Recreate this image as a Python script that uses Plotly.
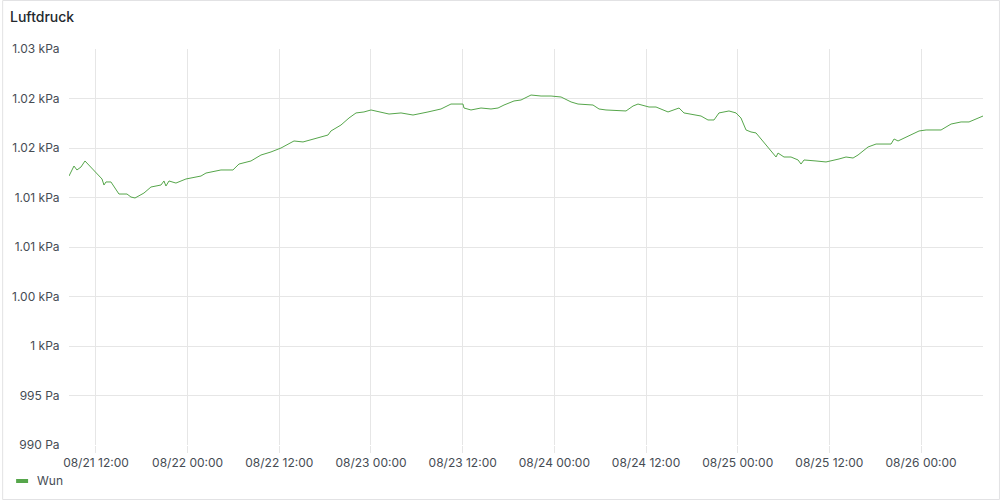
import pandas as pd
import plotly.graph_objects as go

# hours since 2024-08-21 00:00
hours = [8.47, 9.12, 9.51, 10.04, 10.56, 12.13, 12.79, 13.05, 13.31, 13.96, 15.01, 16.06, 16.58, 17.11,
         18.28, 19.20, 20.51, 20.90, 21.16, 21.56, 22.47, 23.78, 25.75, 26.40, 28.36, 29.93, 30.72, 32.29,
         33.60, 34.91, 36.22, 37.92, 39.10, 42.37, 42.76, 44.07, 45.12, 46.04, 47.08, 48.00, 49.31, 50.36,
         51.93, 53.50, 55.46, 57.16, 58.47, 60.04, 60.17, 61.09, 62.40, 63.71, 64.63, 65.41, 66.72, 67.64,
         68.95, 70.26, 71.57, 72.88, 74.19, 75.10, 77.06, 77.85, 78.76, 80.73, 81.38, 82.30, 82.95, 84.39,
         85.31, 86.88, 88.32, 88.97, 89.89, 91.20, 92.11, 92.90, 93.55, 94.86, 95.78, 96.43, 97.09, 97.74,
         98.40, 99.05, 99.71, 100.36, 101.02, 101.28, 102.06, 102.98, 103.90, 104.29, 104.68, 106.25,
         107.56, 109.26, 110.18, 111.10, 111.75, 113.06, 114.11, 116.07, 116.47, 116.99, 118.69, 119.74,
         120.66, 122.62, 123.93, 125.24, 126.28, 127.20, 128.11]
pressure_pa = [1017.17, 1018.18, 1017.78, 1018.08, 1018.69, 1017.47, 1016.87, 1016.26, 1016.57, 1016.57,
               1015.35, 1015.35, 1015.05, 1014.95, 1015.45, 1016.06, 1016.26, 1016.67, 1016.16, 1016.67,
               1016.46, 1016.87, 1017.17, 1017.47, 1017.78, 1017.78, 1018.38, 1018.69, 1019.29, 1019.60,
               1020.00, 1020.71, 1020.61, 1021.31, 1021.72, 1022.32, 1023.03, 1023.54, 1023.64, 1023.84,
               1023.64, 1023.43, 1023.54, 1023.33, 1023.64, 1023.94, 1024.44, 1024.44, 1024.04, 1023.84,
               1024.04, 1023.94, 1024.04, 1024.34, 1024.75, 1024.85, 1025.35, 1025.25, 1025.25, 1025.15,
               1024.65, 1024.44, 1024.34, 1023.94, 1023.84, 1023.74, 1023.74, 1024.24, 1024.44, 1024.14,
               1024.14, 1023.64, 1024.04, 1023.54, 1023.43, 1023.23, 1022.83, 1022.83, 1023.54, 1023.74,
               1023.54, 1023.03, 1021.82, 1021.62, 1021.52, 1020.91, 1020.30, 1019.60, 1019.09, 1019.49,
               1019.09, 1019.09, 1018.79, 1018.38, 1018.79, 1018.69, 1018.59, 1018.89, 1019.09, 1018.99,
               1019.29, 1020.10, 1020.40, 1020.40, 1020.91, 1020.71, 1021.31, 1021.72, 1021.82, 1021.82,
               1022.42, 1022.63, 1022.63, 1022.93, 1023.23]

y_tickvals = [990, 995, 1000, 1005, 1010, 1015, 1020, 1025, 1030]
y_ticktext = ["990 Pa", "995 Pa", "1 kPa", "1.00 kPa", "1.01 kPa", "1.01 kPa", "1.02 kPa", "1.02 kPa", "1.03 kPa"]

base = pd.Timestamp("2024-08-21 00:00")
times = [base + pd.Timedelta(hours=h) for h in hours]

GRID = "#e6e6e6"
TEXT = "#464c54"
FONT = "Inter"

fig = go.Figure()
fig.add_trace(go.Scatter(x=times, y=pressure_pa, mode="lines", name="Wun",
                         line=dict(color="#56A64B", width=1), showlegend=False))

fig.update_layout(
    width=1000, height=500,
    paper_bgcolor="white", plot_bgcolor="white",
    margin=dict(l=67, r=17, t=49, b=55),
    font=dict(family=FONT, size=12, color=TEXT),
    title=dict(text="Luftdruck", x=0.01, xref="container", xanchor="left",
               y=1 - 17 / 500, yref="container", yanchor="middle",
               font=dict(family=FONT, size=14, color="#24292e", weight=500)),
    xaxis=dict(range=[times[0], times[-1]], type="date",
               tick0="2024-08-21 00:00", dtick=12 * 3600 * 1000, tickformat="%m/%d %H:%M",
               showgrid=True, gridcolor=GRID, gridwidth=1, zeroline=False,
               ticks="outside", ticklen=7, tickcolor=GRID, showline=False,
               tickfont=dict(family=FONT, size=12, color=TEXT)),
    yaxis=dict(range=[990, 1030], tickvals=y_tickvals, ticktext=y_ticktext,
               showgrid=True, gridcolor=GRID, gridwidth=1, zeroline=False,
               ticks="outside", ticklen=6, tickcolor="rgba(0,0,0,0)", showline=False,
               tickfont=dict(family=FONT, size=12, color=TEXT)),
    shapes=[
        dict(type="rect", xref="paper", yref="paper",
             x0=(0.5 - 67) / 916, x1=(999.5 - 67) / 916,
             y0=(445 - 499.5) / 396, y1=(445 - 0.5) / 396,
             line=dict(color="#e2e2e4", width=1), fillcolor="rgba(0,0,0,0)", layer="below"),
        dict(type="line", xref="paper", yref="paper",
             x0=(14 - 67) / 916, x1=(26 - 67) / 916,
             y0=(445 - 481) / 396, y1=(445 - 481) / 396,
             line=dict(color="#56A64B", width=4)),
    ],
    annotations=[
        dict(text="Wun", xref="paper", yref="paper", x=(33 - 67) / 916, y=(445 - 481) / 396,
             xanchor="left", yanchor="middle", showarrow=False,
             font=dict(family=FONT, size=12, color=TEXT)),
    ],
)

fig.write_html("out.html", config={"displayModeBar": False},
               post_script="document.body.style.margin='0';document.body.style.overflow='hidden';")
